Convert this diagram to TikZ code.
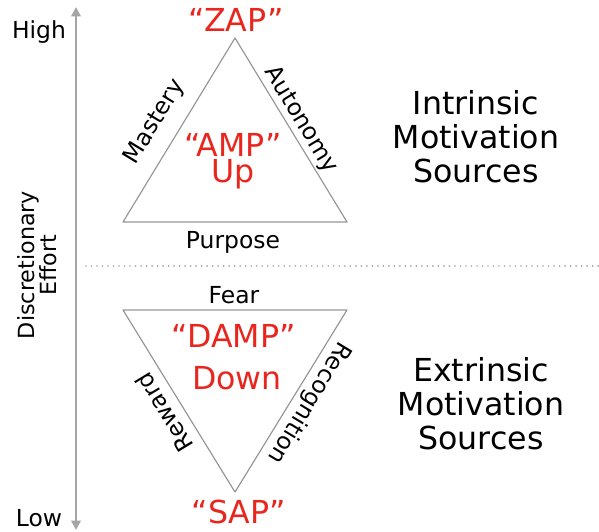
\documentclass[tikz,border=0pt]{standalone}
\usepackage{fontspec}
\setmainfont{DejaVu Sans}
\usetikzlibrary{arrows.meta}
\definecolor{sapred}{RGB}{232,38,30}
\definecolor{axisgray}{RGB}{165,165,165}
\definecolor{edgegray}{RGB}{150,150,150}

\begin{document}
\begin{tikzpicture}[x=0.03cm, y=-0.03cm,
	small/.style={font=\fontsize{20}{20}\selectfont, inner sep=0pt},
	redtxt/.style={text=sapred, font=\fontsize{27}{31}\selectfont, align=center, inner sep=0pt},
	source/.style={font=\fontsize{27}{29}\selectfont, align=center, inner sep=0pt},
	edge/.style={draw=edgegray, line width=1pt, line join=round}]
	%%%%% START %%%%%
	
	\useasboundingbox (0, 0) rectangle (599, 531);
	
	% effort axis
	\coordinate (axisTop) at (76, 7);
	\coordinate (axisBot) at (76, 530);
	\draw[axisgray, line width=1.8pt, {Triangle[length=8pt, width=8pt]}-{Triangle[length=8pt, width=8pt]}] (axisBot) -- (axisTop);
	\node[small] (high) at (39, 32) {High};
	\node[small] (low) at (39, 518) {Low};
	\node[small, rotate=90, align=center, font=\fontsize{19}{19}\selectfont] (effort) at (37, 265) {Discretionary\\Effort};
	
	% split between intrinsic and extrinsic
	\coordinate (splitL) at (86, 266);
	\coordinate (splitR) at (599, 266);
	\draw[axisgray, line width=1.6pt, line cap=round, dash pattern=on 0pt off 4.7pt] (splitL) -- (splitR);
	
	% upper triangle
	\coordinate (zapTip) at (235, 38);
	\coordinate (ampL) at (123, 222);
	\coordinate (ampR) at (347, 222);
	\draw[edge] (zapTip) -- (ampL) -- (ampR) -- cycle;
	
	\node[redtxt] (zap) at (236, 20) {“ZAP”};
	\node[redtxt] (amp) at (233, 145) {“AMP”};
	\node[redtxt, below=2pt] (up) at (amp.south) {Up};
	\node[small, rotate=58.7] (mastery) at (155, 122) {Mastery};
	\node[small, rotate=-58.7] (autonomy) at (301, 120) {Autonomy};
	\node[small] (purpose) at (233, 242) {Purpose};
	
	\node[source] (intrinsic) at (476, 137) {Intrinsic\\Motivation\\Sources};
	
	% lower triangle
	\coordinate (dampL) at (123, 310);
	\coordinate (dampR) at (347, 310);
	\coordinate (sapTip) at (235, 492);
	\draw[edge] (dampL) -- (dampR) -- (sapTip) -- cycle;
	
	\node[small] (fear) at (234, 295) {Fear};
	\node[redtxt] (damp) at (234, 336) {“DAMP”};
	\node[redtxt] (down) at (237, 378) {Down};
	\node[redtxt] (sap) at (239, 512) {“SAP”};
	\node[small, rotate=121.3] (reward) at (164, 413) {Reward};
	\node[small, rotate=238.7] (recognition) at (309, 403) {Recognition};
	
	\node[source] (extrinsic) at (481, 404) {Extrinsic\\Motivation\\Sources};
	
	%%%%% END %%%%%
\end{tikzpicture}
\end{document}
